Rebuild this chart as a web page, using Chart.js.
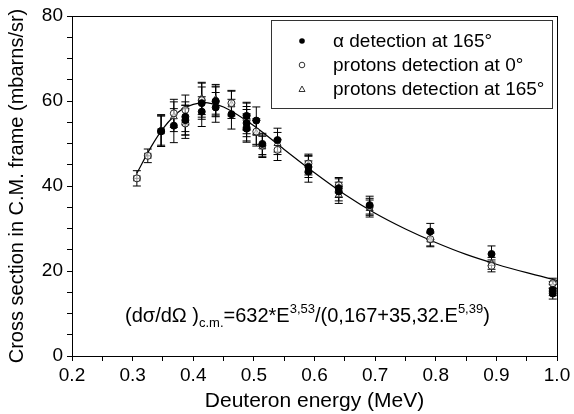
<!DOCTYPE html>
<html>
<head>
<meta charset="utf-8">
<script src="https://cdn.jsdelivr.net/npm/chart.js@4/dist/chart.umd.min.js"></script>
<style>
  body { margin: 0; background: #fff; }
  canvas { display: block; }
</style>
</head>
<body>
<canvas id="crossChart" width="574" height="414"></canvas>
<script>
// Alpha detection at 165 deg (filled circles)
const alphaEnergy = [0.347, 0.368, 0.387, 0.387, 0.414, 0.414, 0.437, 0.437, 0.463, 0.488, 0.488, 0.488, 0.504, 0.514, 0.539, 0.590, 0.590, 0.640, 0.640, 0.691, 0.791, 0.892, 0.993, 0.993];
const alphaSigma = [52.9, 54.2, 55.5, 56.3, 59.5, 57.5, 60.0, 58.5, 56.9, 56.5, 54.8, 53.5, 55.4, 49.9, 50.8, 43.4, 44.5, 38.7, 39.5, 35.5, 29.3, 24.0, 14.7, 15.5];
const alphaErr = [3.6, 4.0, 3.5, 3.5, 3.8, 3.5, 3.5, 3.5, 3.5, 3.2, 3.2, 3.2, 3.2, 2.5, 2.8, 2.5, 2.5, 2.2, 2.2, 2.1, 1.9, 1.9, 1.3, 1.3];

// Protons detection at 0 deg (open circles)
const p0Energy = [0.307, 0.325, 0.347, 0.368, 0.387, 0.387, 0.414, 0.437, 0.463, 0.488, 0.488, 0.504, 0.514, 0.539, 0.590, 0.640, 0.691, 0.791, 0.892, 0.993];
const p0Sigma = [41.8, 47.1, 52.9, 57.1, 57.9, 54.7, 60.2, 59.8, 59.5, 55.5, 53.8, 52.8, 49.5, 48.5, 45.3, 40.2, 35.1, 27.5, 21.2, 17.1];
const p0Err = [1.8, 1.6, 3.6, 3.3, 3.5, 3.5, 4.0, 3.5, 3.0, 3.2, 3.2, 3.0, 2.5, 2.5, 2.2, 1.8, 2.0, 1.6, 1.4, 1.2];
const p0XErr = [0.005, 0.005, 0.005, 0, 0, 0, 0, 0, 0, 0, 0, 0, 0, 0, 0, 0, 0, 0, 0, 0];

// Protons detection at 165 deg (open triangles)
const p165Energy = [0.347, 0.368, 0.387, 0.414, 0.437, 0.463, 0.488, 0.504, 0.514, 0.539, 0.590, 0.640, 0.691, 0.791, 0.892, 0.993];
const p165Sigma = [53.2, 56.3, 55.5, 60.6, 60.4, 59.1, 56.3, 52.4, 49.2, 50.0, 44.9, 37.9, 34.7, 27.3, 21.8, 16.3];
const p165Err = [3.6, 3.5, 3.5, 3.8, 3.5, 3.2, 3.2, 3.0, 2.5, 2.6, 2.3, 2.0, 2.0, 1.6, 1.4, 1.2];

// Fitted curve
const fitEnergy = [0.307, 0.33, 0.35, 0.37, 0.38, 0.40, 0.42, 0.43, 0.45, 0.50, 0.55, 0.60, 0.65, 0.70, 0.75, 0.80, 0.85, 0.90, 0.95, 1.0];
const fitSigma = [43.0, 49.1, 53.5, 56.7, 57.9, 59.2, 59.6, 59.4, 58.6, 54.2, 48.6, 43.1, 38.0, 33.6, 29.9, 26.7, 23.9, 21.6, 19.6, 17.8];

const FONT = "'Liberation Sans', Arial, sans-serif";

function toPoints(xs, ys) {
    return xs.map((x, i) => ({ x: x, y: ys[i] }));
}

// Error bars drawn through the chart scales
const errorBars = {
    id: "errorBars",
    beforeDatasetsDraw(chart) {
        const { ctx, scales: { x, y } } = chart;
        ctx.save();
        ctx.strokeStyle = "#000";
        ctx.lineWidth = 1;
        chart.data.datasets.forEach((ds) => {
            if (!ds.yErr) return;
            ds.data.forEach((p, i) => {
                const px = x.getPixelForValue(p.x);
                const py = y.getPixelForValue(p.y);
                const top = y.getPixelForValue(p.y + ds.yErr[i]);
                const bot = y.getPixelForValue(p.y - ds.yErr[i]);
                ctx.beginPath();
                ctx.moveTo(px, top); ctx.lineTo(px, bot);
                ctx.moveTo(px - 4, top); ctx.lineTo(px + 4, top);
                ctx.moveTo(px - 4, bot); ctx.lineTo(px + 4, bot);
                if (ds.xErr && ds.xErr[i]) {
                    const l = x.getPixelForValue(p.x - ds.xErr[i]);
                    const r = x.getPixelForValue(p.x + ds.xErr[i]);
                    ctx.moveTo(l, py); ctx.lineTo(r, py);
                    ctx.moveTo(l, py - 3); ctx.lineTo(l, py + 3);
                    ctx.moveTo(r, py - 3); ctx.lineTo(r, py + 3);
                }
                ctx.stroke();
            });
        });
        ctx.restore();
    }
};

// Frame, legend box and formula
const decorations = {
    id: "decorations",
    afterDraw(chart) {
        const { ctx, chartArea: a } = chart;
        ctx.save();
        ctx.strokeStyle = "#000";
        ctx.lineWidth = 1;
        ctx.strokeRect(a.left + 0.5, a.top + 0.5, a.right - a.left, a.bottom - a.top);

        // legend box
        ctx.strokeStyle = "#333";
        ctx.strokeRect(271.5, 20.5, 281, 88);
        ctx.fillStyle = "#000";
        ctx.font = "19px " + FONT;
        ctx.textBaseline = "middle";
        const rows = [41, 65, 89];
        chart.data.datasets.slice(0, 3).forEach((ds, i) => {
            const cy = rows[i];
            ctx.beginPath();
            ctx.lineWidth = 1;
            if (ds.pointStyle === "triangle") {
                ctx.moveTo(302, cy - 3); ctx.lineTo(305, cy + 2.5); ctx.lineTo(299, cy + 2.5); ctx.closePath();
                ctx.stroke();
            } else {
                ctx.arc(302, cy, 2.8, 0, Math.PI * 2);
                if (ds.backgroundColor === "#000") ctx.fill(); else ctx.stroke();
            }
            ctx.fillText(ds.label, 333, cy + 1);
        });

        // formula
        let x0 = 125;
        const base = 322;
        ctx.textBaseline = "alphabetic";
        const parts = [
            ["(d\u03c3/d\u03a9 )", 20, 0],
            ["c.m.", 13, 5],
            ["=632*E", 20, 0],
            ["3,53", 13, -9],
            ["/(0,167+35,32.E", 20, 0],
            ["5,39", 13, -9],
            [")", 20, 0]
        ];
        parts.forEach(([t, size, dy]) => {
            ctx.font = size + "px " + FONT;
            ctx.fillText(t, x0, base + dy);
            x0 += ctx.measureText(t).width;
        });
        ctx.restore();
    }
};

const ctx = document.getElementById("crossChart").getContext("2d");

window.crossChart = new Chart(ctx, {
    type: "scatter",
    data: {
        datasets: [
            {
                label: "\u03b1 detection at 165\u00b0",
                data: toPoints(alphaEnergy, alphaSigma),
                yErr: alphaErr,
                pointStyle: "circle",
                pointRadius: 3.5,
                backgroundColor: "#000",
                borderColor: "#000",
                borderWidth: 1,
            },
            {
                label: "protons detection at 0\u00b0",
                data: toPoints(p0Energy, p0Sigma),
                yErr: p0Err,
                xErr: p0XErr,
                pointStyle: "circle",
                pointRadius: 3.5,
                backgroundColor: "rgba(255,255,255,0.6)",
                borderColor: "#222",
                borderWidth: 1,
            },
            {
                label: "protons detection at 165\u00b0",
                data: toPoints(p165Energy, p165Sigma),
                yErr: p165Err,
                pointStyle: "triangle",
                pointRadius: 4,
                backgroundColor: "rgba(255,255,255,0.6)",
                borderColor: "#222",
                borderWidth: 1,
            },
            {
                label: "fit",
                data: toPoints(fitEnergy, fitSigma),
                showLine: true,
                pointRadius: 0,
                borderColor: "#000",
                borderWidth: 1.2,
                cubicInterpolationMode: "monotone",
                fill: false,
            },
        ],
    },
    options: {
        responsive: false,
        animation: false,
        layout: { padding: { top: 16, right: 17, left: 0, bottom: 0 } },
        plugins: {
            legend: { display: false },
            tooltip: { enabled: false },
        },
        scales: {
            x: {
                type: "linear",
                min: 0.2,
                max: 1.0,
                afterFit: (s) => { s.height = 58; },
                border: { display: true, color: "#000", width: 1 },
                grid: { drawOnChartArea: false, tickLength: 5, color: "#000" },
                ticks: {
                    stepSize: 0.05,
                    padding: 3,
                    color: "#000",
                    font: { family: FONT, size: 19 },
                    maxRotation: 0,
                    autoSkip: false,
                    callback: (v) => (Math.round(v * 100) % 10 === 0 ? v.toFixed(1) : ""),
                },
                title: {
                    display: true,
                    text: "Deuteron energy (MeV)",
                    color: "#000",
                    font: { family: FONT, size: 21 },
                    padding: { top: 0, bottom: 0 },
                },
            },
            y: {
                type: "linear",
                min: 0,
                max: 80,
                afterFit: (s) => { s.width = 72; },
                border: { display: true, color: "#000", width: 1 },
                grid: { drawOnChartArea: false, tickLength: 5, color: "#000" },
                ticks: {
                    stepSize: 5,
                    padding: 4,
                    color: "#000",
                    font: { family: FONT, size: 19 },
                    autoSkip: false,
                    callback: (v) => (v % 20 === 0 ? v : ""),
                },
                title: {
                    display: true,
                    text: "Cross section in C.M. frame (mbarns/sr)",
                    color: "#000",
                    font: { family: FONT, size: 20 },
                    padding: { top: 5, bottom: 0 },
                },
            },
        },
    },
    plugins: [errorBars, decorations],
});
</script>
</body>
</html>
